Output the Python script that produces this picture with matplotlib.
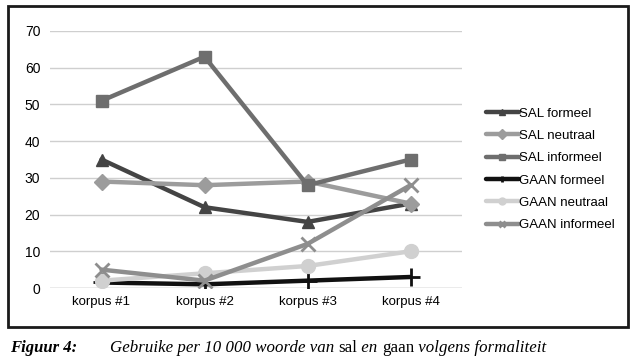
import matplotlib
matplotlib.use("Agg")
import matplotlib.pyplot as plt
from matplotlib.patches import Rectangle

categories = ["korpus #1", "korpus #2", "korpus #3", "korpus #4"]
series_names = ["SAL formeel", "SAL neutraal", "SAL informeel",
                "GAAN formeel", "GAAN neutraal", "GAAN informeel"]
sal_formeel = [35, 22, 18, 23]
sal_neutraal = [29, 28, 29, 23]
sal_informeel = [51, 63, 28, 35]
gaan_formeel = [1.5, 1, 2, 3]
gaan_neutraal = [2, 4, 6, 10]
gaan_informeel = [5, 2, 12, 28]
y_ticks = [0, 10, 20, 30, 40, 50, 60, 70]

series = [sal_formeel, sal_neutraal, sal_informeel,
          gaan_formeel, gaan_neutraal, gaan_informeel]
colors = ["#444444", "#9c9c9c", "#6e6e6e", "#111111", "#d0d0d0", "#8e8e8e"]
markers = ["^", "D", "s", "+", "o", "x"]
msizes = [9, 8, 9, 13, 10, 10]

plt.rcParams['font.family'] = ['Liberation Sans', 'DejaVu Sans']
fig = plt.figure(figsize=(6.39, 3.58), dpi=100)
W, H = 639, 358
ax = fig.add_axes([50 / W, 1 - 288 / H, (462 - 50) / W, (288 - 31) / H])

x = list(range(len(categories)))
for vals, name, c, m, ms in zip(series, series_names, colors, markers, msizes):
    ax.plot(x, vals, color=c, lw=3.2, marker=m, ms=ms, mew=2 if m in "+x" else 1,
            mec=c, mfc=c, label=name, solid_capstyle='round')

ax.set_xlim(-0.5, 3.5)
ax.set_ylim(0, 70)
ax.set_yticks(y_ticks)
ax.set_xticks(x)
ax.set_xticklabels(categories, fontsize=9.5)
ax.tick_params(axis='y', labelsize=10, length=0, pad=7)
ax.tick_params(axis='x', length=0, pad=6)
ax.grid(axis='y', color="#cfcfcf", lw=1)
ax.set_axisbelow(True)
for s in ax.spines.values():
    s.set_visible(False)
ax.axhline(0, color="#bdbdbd", lw=1, zorder=0.5)

leg = fig.legend(loc='upper left', bbox_to_anchor=(479 / W, 1 - 101 / H),
                 frameon=False, fontsize=9.5, handlelength=2.5, handletextpad=0.0,
                 labelspacing=0.76, borderpad=0)
for h in leg.legend_handles:
    h.set_markersize(5)

fig.patches.append(Rectangle((8 / W, 1 - 327 / H), (628 - 8) / W, (327 - 6) / H,
                             transform=fig.transFigure, fill=False,
                             edgecolor="#1a1a1a", lw=2))

cy = 1 - 352 / H
fig.text(10 / W, cy, "Figuur 4:", family='Liberation Serif', style='italic',
         weight='bold', fontsize=12, va='baseline')
parts = [("Gebruike per 10 000 woorde van ", 'italic'), ("sal", 'normal'),
         (" en ", 'italic'), ("gaan", 'normal'), (" volgens formaliteit", 'italic')]
fig.canvas.draw()
r = fig.canvas.get_renderer()
xpos = 110 / W
for txt, st in parts:
    t = fig.text(xpos, cy, txt, family='Liberation Serif', style=st, fontsize=12.2,
                 va='baseline')
    bb = t.get_window_extent(renderer=r)
    xpos += bb.width / W

fig.savefig("out.png", dpi=100)
